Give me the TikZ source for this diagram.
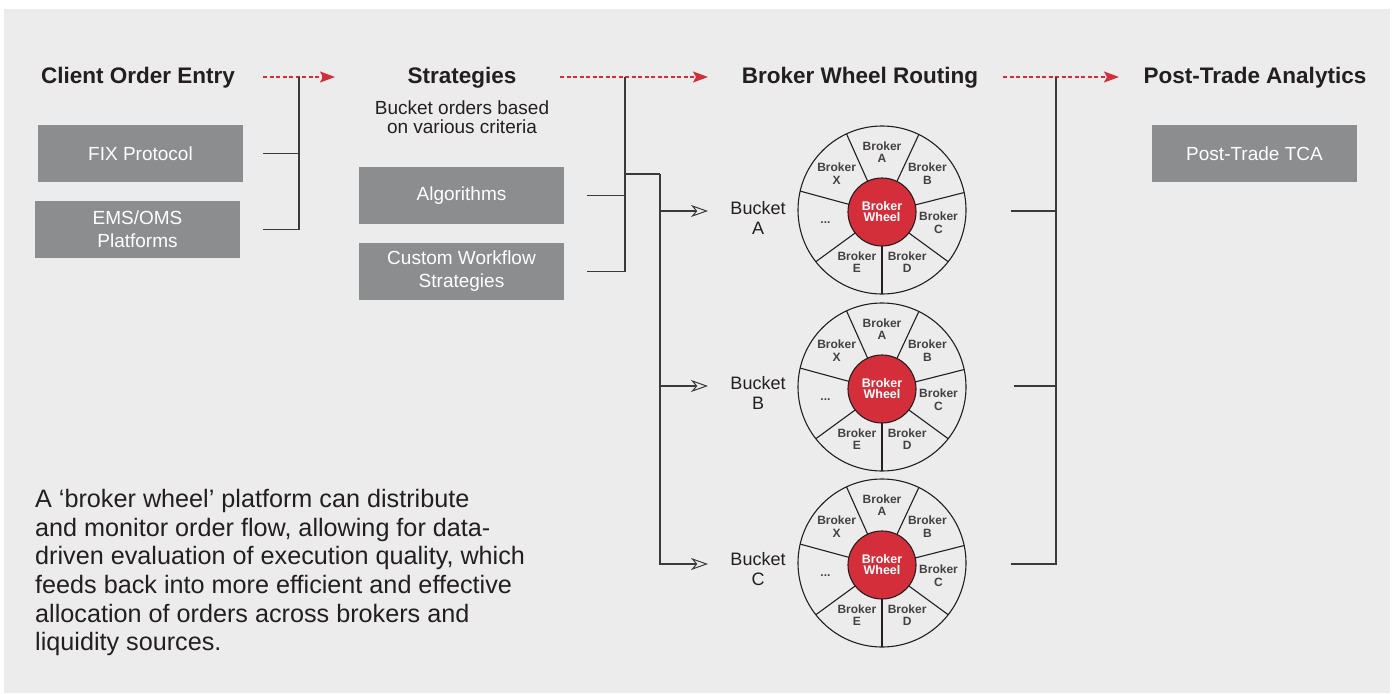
\documentclass[tikz,border=0pt]{standalone}
\usepackage{fontspec}
\setmainfont{Liberation Sans}
\usetikzlibrary{arrows.meta,calc}
\definecolor{bg}{HTML}{ECECEC}
\definecolor{boxgray}{HTML}{8C8D8F}
\definecolor{wred}{HTML}{D42E3B}
\definecolor{ink}{HTML}{231F20}
\definecolor{lineink}{HTML}{3A3A3A}
\newcommand\brokerwheel[2]{%
  \node[wheelout] (#1) at (882,#2) {};
  \node[wheelin] (#1c) at (882,#2+2) {Broker\\[-2pt]Wheel};
  \foreach \a in {-90,-38.571,12.857,64.286,115.714,167.143,218.571}
    \draw[spoke] (#1c.\a) -- (#1.\a);
  \foreach \a/\t [count=\i] in {90/A,38.571/B,-12.857/C,-64.286/D,-115.714/E,141.429/X}
    \node[brk] (#1l\i) at ($(#1.center)+(\a:58pt)$) {Broker\\\t};
  \node[brk] (#1l7) at ($(#1.center)+(193:58pt)$) {...};
}
\begin{document}
\begin{tikzpicture}[x=1pt,y=-1pt,
  title/.style={font=\fontsize{22.5}{26}\selectfont\bfseries, text=ink, inner sep=0, anchor=base},
  gbox/.style={fill=boxgray, text=white, minimum width=205pt, minimum height=57pt,
    align=center, font=\fontsize{19}{23}\selectfont, inner sep=0},
  plain/.style={text=ink, align=center, inner sep=0},
  conn/.style={draw=lineink, line width=1.1pt},
  flow/.style={draw=wred, line width=1.6pt, dash pattern=on 4pt off 2.5pt,
    -{Stealth[length=15pt,width=11pt,inset=3pt,fill=wred]}},
  bucketarrow/.style={conn, -{Stealth[open,length=17pt,width=12pt,inset=5pt,line width=1pt]}},
  wheelout/.style={circle, draw=ink, line width=1.1pt, minimum size=168pt, inner sep=0, outer sep=0},
  wheelin/.style={circle, fill=wred, draw=ink, line width=1.1pt, minimum size=68pt, inner sep=0, outer sep=0,
    text=white, align=center, font=\fontsize{12.5}{13}\selectfont\bfseries},
  spoke/.style={draw=ink, line width=1.1pt},
  brk/.style={text=ink!85!white, align=center, inner sep=0, font=\fontsize{12}{12.5}\selectfont\bfseries},
]
\useasboundingbox (0,0) rectangle (1394,693);
\fill[white] (0,0) rectangle (1394,693);
\fill[bg] (4,9) rectangle (1390,693);

% titles
\node[title] (t1) at (138,83.3) {Client Order Entry};
\node[title] (t2) at (462,83.3) {Strategies};
\node[title] (t3) at (860,83.3) {Broker Wheel Routing};
\node[title] (t4) at (1255,83.3) {Post-Trade Analytics};
\node[plain, font=\fontsize{19}{19}\selectfont] (sub) at (462,117) {Bucket orders based\\on various criteria};

% boxes
\node[gbox] (fix) at (140.5,153.5) {FIX Protocol};
\node[gbox] (ems) at (137.5,229.5) {EMS/OMS\\Platforms};
\node[gbox] (algo) at (461.5,195.5) {Algorithms};
\node[gbox] (cust) at (461.5,271.5) {Custom Workflow\\Strategies};
\node[gbox] (tca) at (1254.5,153.5) {Post-Trade TCA};

% flow arrows
\coordinate (f1s) at (263,77); \coordinate (f1e) at (335,77);
\coordinate (f2s) at (560,77); \coordinate (f2e) at (708,77);
\coordinate (f3s) at (1003,77); \coordinate (f3e) at (1119,77);
\draw[flow] (f1s) -- (f1e);
\draw[flow] (f2s) -- (f2e);
\draw[flow] (f3s) -- (f3e);

% bracket 1
\coordinate (j1) at (299,77);
\draw[conn] ([xshift=20pt]fix.east) -| (j1);
\draw[conn] ([xshift=23pt]ems.east) -| (j1);

% bracket 2
\coordinate (j2) at (625,77);
\draw[conn] ([xshift=23pt]algo.east) -| (j2);
\draw[conn] ([xshift=23pt]cust.east) -| (j2);
\coordinate (sj) at (625,174);
\coordinate (bv) at (660,174);
\draw[conn] (sj) -- (bv);

% wheels
\brokerwheel{wA}{210}
\brokerwheel{wB}{387}
\brokerwheel{wC}{563}

% buckets
\node[plain, font=\fontsize{18}{20}\selectfont] (bA) at (758,218) {Bucket\\A};
\node[plain, font=\fontsize{18}{20}\selectfont] (bB) at (758,393) {Bucket\\B};
\node[plain, font=\fontsize{18}{20}\selectfont] (bC) at (758,569) {Bucket\\C};
\coordinate (tA) at (708,211);
\coordinate (tB) at (708,386);
\coordinate (tC) at (708,564);
\draw[bucketarrow] (bv) |- (tA);
\draw[bucketarrow] (bv) |- (tB);
\draw[bucketarrow] (bv) |- (tC);

% bracket 3
\coordinate (j3) at (1056,77);
\draw[conn] ([xshift=45pt]wA.east |- tA) -| (j3);
\draw[conn] ([xshift=48pt]wB.east |- tB) -| (j3);
\draw[conn] ([xshift=45pt]wC.east |- tC) -| (j3);

% body text
\node[anchor=north west, align=left, inner sep=0, text=ink, font=\fontsize{25.2}{28.7}\selectfont] (body) at (35,489)
{A ‘broker wheel’ platform can distribute\\
and monitor order flow, allowing for data-\\
driven evaluation of execution quality, which\\
feeds back into more efficient and effective\\
allocation of orders across brokers and\\
liquidity sources.};
\end{tikzpicture}
\end{document}
